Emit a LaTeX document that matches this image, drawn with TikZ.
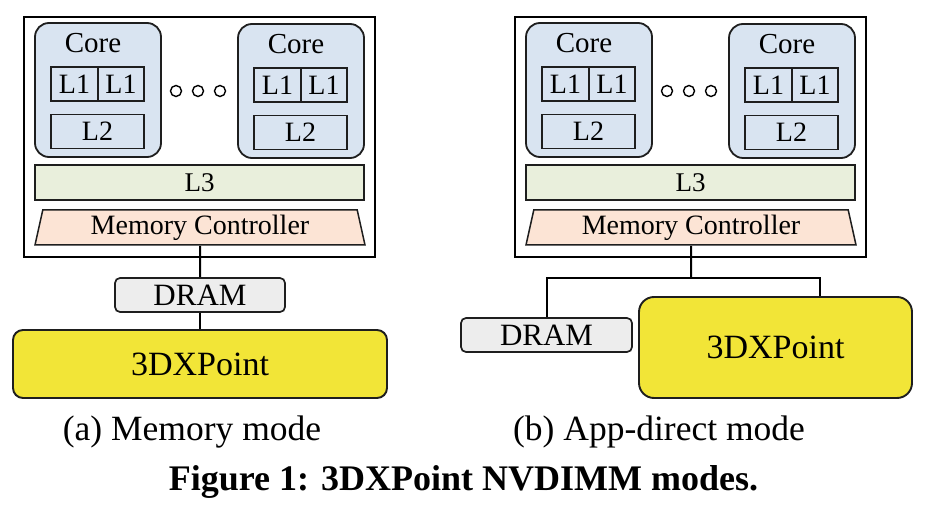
\documentclass[tikz,border=0pt]{standalone}
\usepackage{fontspec}
\setmainfont{Liberation Serif}
\usetikzlibrary{shapes.geometric}
\definecolor{coreColor}{RGB}{217, 228, 241}
\definecolor{lthreeColor}{RGB}{233, 239, 220}
\definecolor{mcColor}{RGB}{252, 228, 213}
\definecolor{dramColor}{RGB}{237, 237, 237}
\definecolor{xpColor}{RGB}{242, 229, 55}
\definecolor{lineColor}{RGB}{30, 30, 30}

\begin{document}
\begin{tikzpicture}[x=1pt, y=-1pt,
    chip/.style={rectangle, draw, line width=1.5, minimum width=351, minimum height=240},
    corebox/.style={rectangle, draw=lineColor, line width=1.8, fill=coreColor, rounded corners=14, minimum width=126, minimum height=134},
    coretext/.style={inner sep=0, font=\fontsize{29}{32}\selectfont},
    cachebox/.style={rectangle, draw=lineColor, line width=1.5, minimum height=34, inner sep=0, font=\fontsize{28}{32}\selectfont},
    dot/.style={circle, draw, line width=1.4, minimum size=11, inner sep=0},
    lthree/.style={rectangle, draw=lineColor, line width=1.5, fill=lthreeColor, minimum width=329, minimum height=35, inner sep=0, font=\fontsize{27}{30}\selectfont},
    mc/.style={trapezium, trapezium stretches body=true, trapezium left angle=73, trapezium right angle=73, draw=lineColor, line width=1.5, fill=mcColor, minimum width=330, minimum height=35, inner sep=0, font=\fontsize{28}{30}\selectfont},
    dram/.style={rectangle, draw=lineColor, line width=1.7, fill=dramColor, rounded corners=5, minimum height=34, inner sep=0, font=\fontsize{31}{34}\selectfont},
    xpoint/.style={rectangle, draw=lineColor, line width=1.9, fill=xpColor, inner sep=0, font=\fontsize{34}{38}\selectfont},
    link/.style={line width=2, draw=black},
    caption/.style={inner sep=0, font=\fontsize{35.5}{40}\selectfont}]
    \useasboundingbox (0,0) rectangle (936,510);

    % Two chips with cores, caches and memory controller
    \foreach \ox/\p in {0/a, 491/b} {
        \node[chip] (chip\p) at (199.5+\ox, 137) {};
        \foreach \cx/\cy/\c in {0/0/L, 203/1/R} {
            \node[corebox] (core\c\p) at (98+\ox+\cx, 90+\cy) {};
            \node[coretext] (coretxt\c\p) at (93+\ox+\cx, 43+\cy) {Core};
            \node[cachebox, minimum width=47] (lonei\c\p) at (74.5+\ox+\cx, 84+\cy) {L1};
            \node[cachebox, minimum width=46] (loned\c\p) at (121+\ox+\cx, 84+\cy) {L1};
            \node[cachebox, minimum width=93] (ltwo\c\p) at (97.5+\ox+\cx, 131.5+\cy) {L2};
        }
        \foreach \dx in {176, 198, 220}
            \node[dot] (dot\dx\p) at (\dx+\ox, 91) {};
        \node[lthree] (lthree\p) at (199.5+\ox, 182.5) {L3};
        \node[mc] (mc\p) at (200+\ox, 227.5) {Memory Controller};
    }

    % (a) Memory mode
    \node[dram, minimum width=170] (drama) at (200, 295) {DRAM};
    \node[xpoint, rounded corners=10, minimum width=374, minimum height=68] (xpa) at (200, 364) {3DXPoint};
    \draw[link] (mca.south) -- (drama.north);
    \draw[link] (drama.south) -- (xpa.north);

    % (b) App-direct mode
    \node[dram, minimum width=171] (dramb) at (546.5, 335) {DRAM};
    \node[xpoint, rounded corners=15, minimum width=273, minimum height=101] (xpb) at (775.5, 347.5) {3DXPoint};
    \coordinate (split) at (691, 278);
    \draw[link] (mcb.south) -- (split);
    \draw[link] (dramb.north) |- (split) -| ([xshift=44]xpb.north);

    % Captions
    \node[caption] (capa) at (192, 432) {(a) Memory mode};
    \node[caption] (capb) at (659, 432) {(b) App-direct mode};
    \node[caption, font=\fontsize{36}{40}\selectfont\bfseries] (fig) at (463.5, 482) {Figure 1: 3DXPoint NVDIMM modes.};
\end{tikzpicture}
\end{document}
